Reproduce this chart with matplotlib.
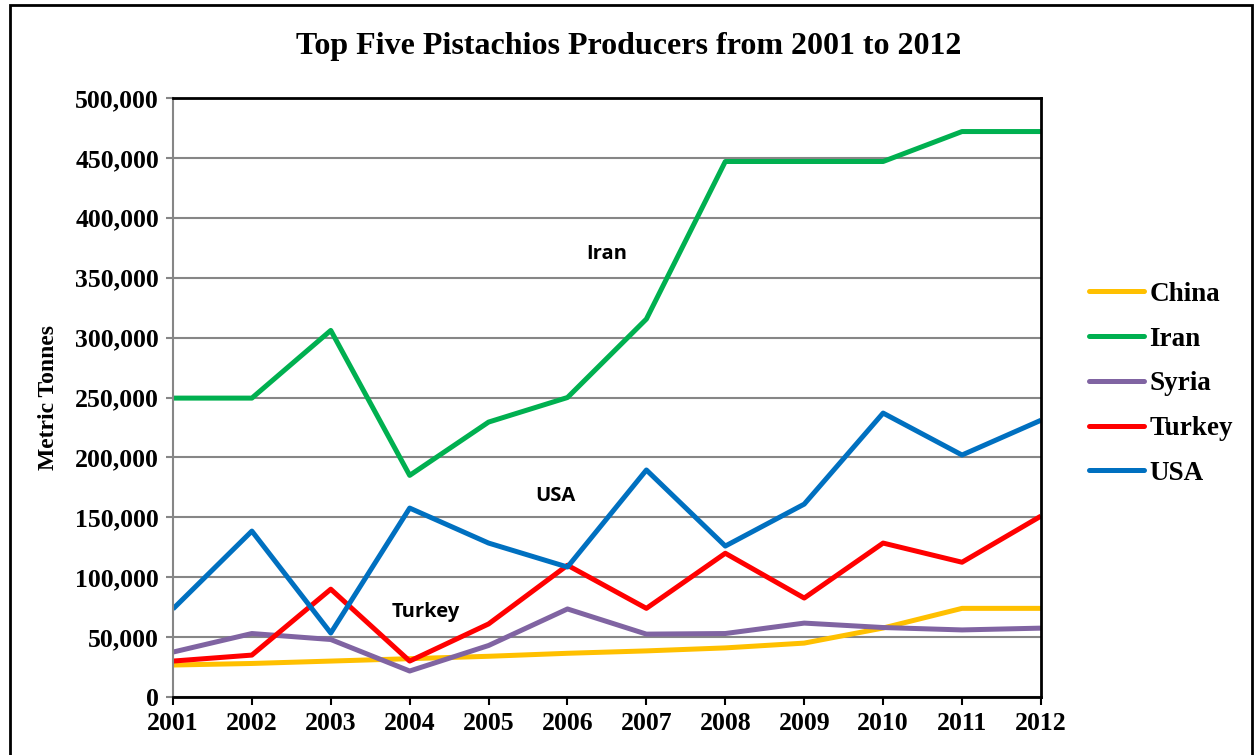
import matplotlib
matplotlib.use("Agg")
import matplotlib.pyplot as plt
from matplotlib.patches import Rectangle
from matplotlib.ticker import FuncFormatter

years = list(range(2001, 2013))
china = [26700, 28000, 30000, 32000, 34000, 36500, 38500, 41000, 45000, 57600, 74000, 74000]
iran = [249500, 249500, 306000, 185000, 229500, 250000, 315500, 447000, 447000, 447000, 472000, 472000]
syria = [37500, 53000, 48000, 21700, 43000, 73500, 52500, 53000, 61700, 58000, 56000, 57500]
turkey = [30000, 35000, 90000, 30000, 61000, 110000, 74000, 120000, 82600, 128500, 112500, 151000]
usa = [73500, 138500, 53400, 157700, 128500, 108500, 189500, 126000, 161000, 237000, 202000, 231000]

series = [("China", china, "#FFC000"), ("Iran", iran, "#00B050"), ("Syria", syria, "#8064A2"),
          ("Turkey", turkey, "#FF0000"), ("USA", usa, "#0070C0")]

serif = "Liberation Serif"

fig = plt.figure(figsize=(12.57, 7.55), dpi=100)
ax = fig.add_axes([0.1376, 0.0768, 0.6905, 0.7934])

for name, vals, col in series:
    ax.plot(years, vals, color=col, lw=3.6, label=name, solid_capstyle="butt")

ax.set_xlim(2001, 2012)
ax.set_ylim(0, 500000)
ax.set_yticks(range(0, 500001, 50000))
ax.set_xticks(years)
ax.yaxis.set_major_formatter(FuncFormatter(lambda v, p: f"{int(v):,}"))
ax.grid(axis="y", color="#868686", lw=1.5)
ax.set_axisbelow(True)

for lab in ax.get_xticklabels() + ax.get_yticklabels():
    lab.set_fontfamily(serif)
    lab.set_fontweight("bold")
    lab.set_fontsize(18.5)
ax.tick_params(axis="y", length=5, width=1.5, color="#868686", pad=5)
ax.tick_params(axis="x", length=6, width=1.5, color="black", pad=5)

ax.spines["left"].set_color("#868686")
ax.spines["left"].set_linewidth(1.5)
for s in ["bottom", "right", "top"]:
    ax.spines[s].set_color("black")
    ax.spines[s].set_linewidth(2)

ax.set_ylabel("Metric Tonnes", fontfamily=serif, fontweight="bold", fontsize=17, labelpad=12)
fig.text(0.5, 0.938, "Top Five Pistachios Producers from 2001 to 2012", ha="center", va="center",
         fontfamily=serif, fontweight="bold", fontsize=23)

ann = dict(fontfamily="Open Sans", fontweight="bold", fontsize=14.5, ha="center", va="center")
ax.text(2006.5, 370000, "Iran", **ann)
ax.text(2005.85, 168000, "USA", **ann)
ax.text(2004.2, 71000, "Turkey", **ann)

leg = fig.legend(loc="upper left", bbox_to_anchor=(0.8467, 0.659), frameon=False,
                 prop={"family": serif, "weight": "bold", "size": 19.5},
                 handlelength=2.05, handletextpad=0.2, labelspacing=0.73)
for h in leg.get_lines():
    h.set_solid_capstyle("round")

fig.patches.append(Rectangle((0.008, -0.01), 0.988, 1.003, transform=fig.transFigure,
                             fill=False, edgecolor="black", lw=2))

fig.savefig("out.png", dpi=100)
